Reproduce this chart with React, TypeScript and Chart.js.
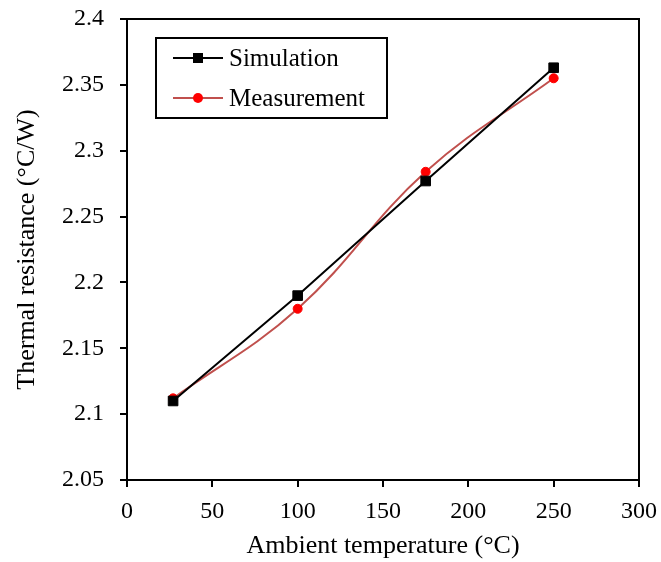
import React, { useEffect, useRef } from "react";
import { Chart, registerables } from "chart.js";

Chart.register(...registerables);

const temperatures = [27, 100, 175, 250];
const simulation = [2.11, 2.19, 2.277, 2.363];
const measurement = [2.112, 2.18, 2.284, 2.355];
const seriesNames = ["Simulation", "Measurement"];
const xTitle = "Ambient temperature (°C)";
const yTitle = "Thermal resistance (°C/W)";

const FONT = '"Liberation Serif", "Times New Roman", serif';

const framePlugin = {
  id: "frame",
  afterDatasetsDraw(chart: any) {
    const { ctx, chartArea } = chart;
    ctx.save();
    ctx.strokeStyle = "#000";
    ctx.lineWidth = 2;
    ctx.beginPath();
    ctx.moveTo(chartArea.left, chartArea.top);
    ctx.lineTo(chartArea.right, chartArea.top);
    ctx.lineTo(chartArea.right, chartArea.bottom);
    ctx.stroke();

    // legend box
    const bx = chartArea.left + 29;
    const by = chartArea.top + 19;
    const bw = 231;
    const bh = 80;
    ctx.fillStyle = "#fff";
    ctx.fillRect(bx, by, bw, bh);
    ctx.strokeRect(bx, by, bw, bh);

    chart.data.datasets.forEach((ds: any, i: number) => {
      const y = by + 20 + i * 40;
      const x0 = bx + 17;
      const x1 = bx + 67;
      ctx.strokeStyle = ds.borderColor;
      ctx.lineWidth = ds.borderWidth;
      ctx.beginPath();
      ctx.moveTo(x0, y);
      ctx.lineTo(x1, y);
      ctx.stroke();
      ctx.fillStyle = ds.pointBackgroundColor;
      const cx = (x0 + x1) / 2;
      if (ds.pointStyle === "rect") {
        const s = 10;
        ctx.fillRect(cx - s / 2, y - s / 2, s, s);
      } else {
        ctx.beginPath();
        ctx.arc(cx, y, 5, 0, Math.PI * 2);
        ctx.fill();
      }
      ctx.fillStyle = "#000";
      ctx.font = `25px ${FONT}`;
      ctx.textBaseline = "middle";
      ctx.textAlign = "left";
      ctx.fillText(ds.label, bx + 73, y + 1);
    });
    ctx.restore();
  },
};

export default function App() {
  const ref = useRef<HTMLCanvasElement | null>(null);

  useEffect(() => {
    document.body.style.margin = "0";
    if (!ref.current) return;
    const chart = new Chart(ref.current, {
      type: "line",
      data: {
        datasets: [
          {
            label: seriesNames[0],
            data: temperatures.map((t, i) => ({ x: t, y: simulation[i] })),
            borderColor: "#000000",
            borderWidth: 2,
            pointStyle: "rect",
            pointRadius: 6.8,
            pointBackgroundColor: "#000000",
            pointBorderColor: "#000000",
            pointBorderWidth: 1,
            tension: 0,
          },
          {
            label: seriesNames[1],
            data: temperatures.map((t, i) => ({ x: t, y: measurement[i] })),
            borderColor: "#c0504d",
            borderWidth: 2,
            pointStyle: "circle",
            pointRadius: 4.5,
            pointBackgroundColor: "#ff0000",
            pointBorderColor: "#ff0000",
            pointBorderWidth: 1,
            tension: 0.4,
          },
        ],
      },
      options: {
        animation: false,
        responsive: false,
        maintainAspectRatio: false,
        layout: { padding: { left: 0, top: 19, right: 22, bottom: 0 } },
        plugins: {
          legend: { display: false },
          tooltip: { enabled: false },
        },
        scales: {
          x: {
            type: "linear",
            min: 0,
            max: 300,
            ticks: {
              stepSize: 50,
              color: "#000",
              font: { family: FONT, size: 24 },
              padding: 10,
              maxRotation: 0,
            },
            grid: {
              display: true,
              drawOnChartArea: false,
              drawTicks: true,
              tickLength: 7,
              color: "#000",
              lineWidth: 2,
            },
            border: { display: true, color: "#000", width: 2 },
            title: {
              display: true,
              text: xTitle,
              color: "#000",
              font: { family: FONT, size: 26 },
              padding: { top: 0, bottom: 0 },
            },
            afterFit: (scale: any) => {
              scale.height = 82;
              scale.paddingLeft = 0;
              scale.paddingRight = 0;
            },
          },
          y: {
            type: "linear",
            min: 2.05,
            max: 2.4,
            ticks: {
              stepSize: 0.05,
              color: "#000",
              font: { family: FONT, size: 24 },
              padding: 16,
              callback: (v: any) => String(Number(Number(v).toFixed(2))),
            },
            grid: {
              display: true,
              drawOnChartArea: false,
              drawTicks: true,
              tickLength: 7,
              color: "#000",
              lineWidth: 2,
            },
            border: { display: true, color: "#000", width: 2 },
            title: {
              display: true,
              text: yTitle,
              color: "#000",
              font: { family: FONT, size: 26 },
              padding: { top: 12, bottom: 0 },
            },
            afterFit: (scale: any) => {
              scale.width = 127;
              scale.paddingTop = 0;
              scale.paddingBottom = 0;
            },
          },
        },
      },
      plugins: [framePlugin],
    });
    return () => chart.destroy();
  }, []);

  return (
    <div style={{ width: 661, height: 562, background: "#fff" }}>
      <canvas ref={ref} width={661} height={562} style={{ display: "block" }} />
    </div>
  );
}
